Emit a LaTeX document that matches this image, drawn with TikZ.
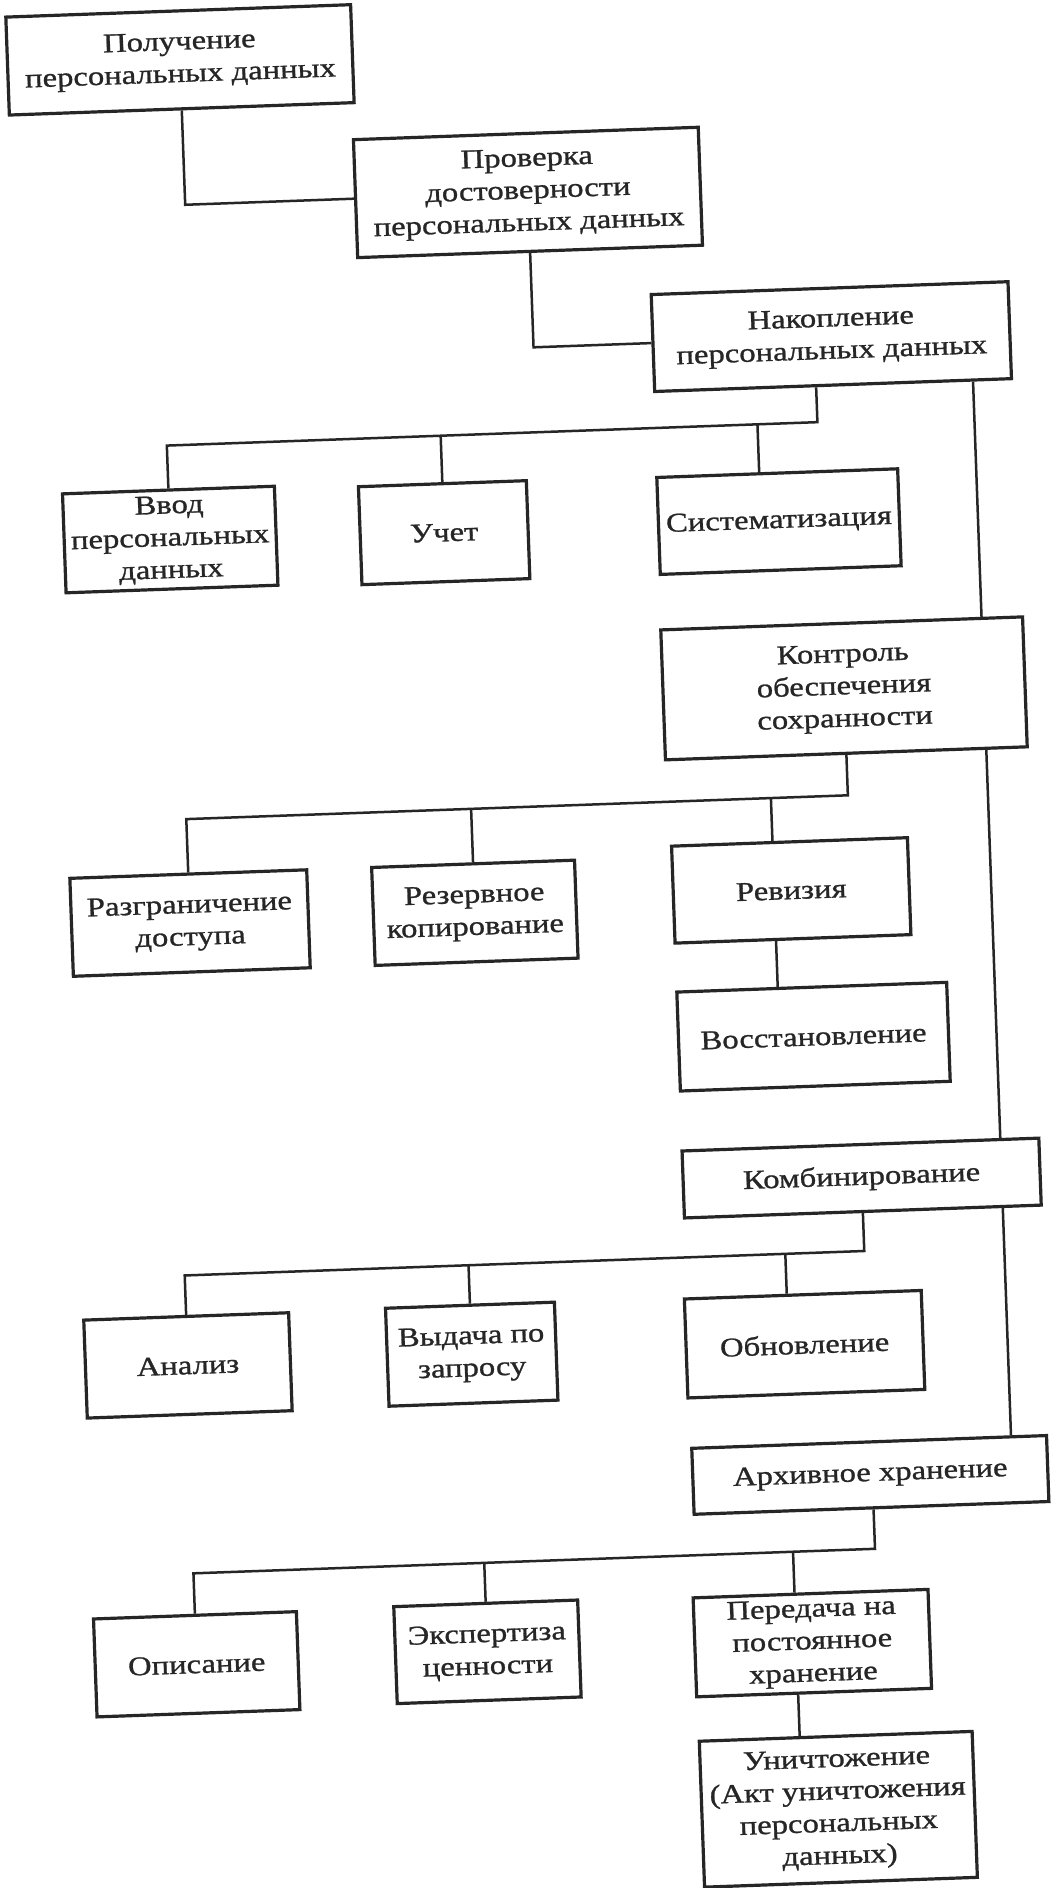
\documentclass[tikz,border=0pt]{standalone}
\usepackage{fontspec}
\setmainfont{Liberation Serif}[FakeStretch=1.21,FakeBold=1]
\usetikzlibrary{calc}
\definecolor{ink}{HTML}{262626}
\begin{document}
\begin{tikzpicture}[x=1pt,y=-1pt,
  box/.style={draw=ink, line width=3.2pt, fill=white, inner sep=0pt, align=center,
    text=ink, font=\fontsize{27}{32.3}\selectfont},
  link/.style={draw=ink, line width=2.5pt}]
\fill[white] (0,0) rectangle (1050,1888);
\useasboundingbox (0,0) rectangle (1050,1888);
\begin{scope}[transform canvas={rotate around={2.063:(525,944)}}]
% level nodes
\node[box, minimum width=345pt, minimum height=98pt]  (b1)  at (212,48)   {Получение\\персональных данных};
\node[box, minimum width=345pt, minimum height=118pt] (b2)  at (555,193)  {Проверка\\достоверности\\персональных данных};
\node[box, minimum width=357pt, minimum height=97pt]  (b3)  at (853,348)  {Накопление\\персональных данных};
\node[box, minimum width=212pt, minimum height=99pt]  (b4)  at (185,527)  {Ввод\\персональных\\данных};
\node[box, minimum width=168pt, minimum height=98pt]  (b5)  at (459,530)  {Учет};
\node[box, minimum width=241pt, minimum height=97pt]  (b6)  at (794,531)  {Систематизация};
\node[box, minimum width=362pt, minimum height=130pt] (b7)  at (853,700)  {Контроль\\обеспечения\\сохранности};
\node[box, minimum width=237pt, minimum height=98pt]  (b8)  at (191,911)  {Разграничение\\доступа};
\node[box, minimum width=203pt, minimum height=98pt]  (b9)  at (476,911)  {Резервное\\копирование};
\node[box, minimum width=236pt, minimum height=97pt]  (b10) at (793,900)  {Ревизия};
\node[box, minimum width=270pt, minimum height=99pt]  (b11) at (810,1047) {Восстановление};
\node[box, minimum width=357pt, minimum height=67pt]  (b12) at (853,1190) {Комбинирование};
\node[box, minimum width=205pt, minimum height=98pt]  (b13) at (173,1353) {Анализ};
\node[box, minimum width=169pt, minimum height=98pt]  (b14) at (457,1352) {Выдача по\\запросу};
\node[box, minimum width=237pt, minimum height=99pt]  (b15) at (790,1354) {Обновление};
\node[box, minimum width=355pt, minimum height=66pt]  (b16) at (851,1487) {Архивное хранение};
\node[box, minimum width=203pt, minimum height=98pt]  (b17) at (171,1652) {Описание};
\node[box, minimum width=184pt, minimum height=97pt]  (b18) at (462,1650) {Экспертиза\\ценности};
\node[box, minimum width=235pt, minimum height=99pt]  (b19) at (787,1653) {Передача на\\постоянное\\хранение};
\node[box, minimum width=273pt, minimum height=146pt] (b20) at (807,1820) {Уничтожение\\(Акт уничтожения\\персональных\\данных)};
% helper coordinates
\coordinate (tr)  at (993,0);
\coordinate (j1)  at (836,433);
\coordinate (s6)  at (776,433);
\coordinate (j2)  at (853,807);
\coordinate (s10) at (776,807);
\coordinate (j3)  at (853,1263);
\coordinate (s15) at (774,1263);
\coordinate (j4)  at (853,1561);
\coordinate (s19) at (771,1561);
% connectors
\draw[link] (b1.south) |- (b2.west);
\draw[link] (b2.south) |- (b3.west);
\draw[link] (b3.south -| j1) -- (j1) -| (b4.north);
\draw[link] (b5.north) -- (b5.north |- j1);
\draw[link] (b6.north -| s6) -- (s6);
\draw[link] (b3.south -| tr) -- (b7.north -| tr);
\draw[link] (b7.south -| tr) -- (b12.north -| tr);
\draw[link] (b12.south -| tr) -- (b16.north -| tr);
\draw[link] (b7.south -| j2) -- (j2) -| (b8.north);
\draw[link] (b9.north) -- (b9.north |- j2);
\draw[link] (b10.north -| s10) -- (s10);
\draw[link] (b10.south -| s10) -- (b11.north -| s10);
\draw[link] (b12.south -| j3) -- (j3) -| (b13.north);
\draw[link] (b14.north) -- (b14.north |- j3);
\draw[link] (b15.north -| s15) -- (s15);
\draw[link] (b16.south -| j4) -- (j4) -| (b17.north);
\draw[link] (b18.north) -- (b18.north |- j4);
\draw[link] (b19.north -| s19) -- (s19);
\draw[link] (b19.south -| s19) -- (b20.north -| s19);
\end{scope}
\end{tikzpicture}
\end{document}
